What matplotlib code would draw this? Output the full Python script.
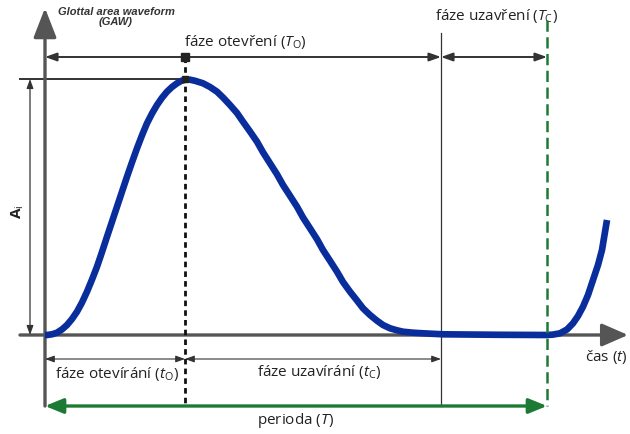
import matplotlib
matplotlib.use('Agg')
import matplotlib.pyplot as plt

# diagram values, in picture units (x to the right, y downwards)
x_origin = 45
y_base = 335
y_peak = 79
t_peak = 185        # end of opening phase
t_close = 441       # end of closing phase
t_period = 547      # end of period

# glottal area waveform
curve_x = [45, 47, 52, 57, 62, 67, 72, 77, 82, 87, 92, 97, 102, 107, 112,
           117, 122, 127, 132, 137, 142, 147, 152, 157, 162, 167, 172, 177,
           181, 186, 190, 195, 203, 210, 217, 223, 230, 237, 243, 250, 257,
           263, 270, 277, 283, 290, 297, 303, 310, 317, 323, 330, 337, 343,
           350, 357, 363, 370, 377, 383, 390, 397, 403, 413, 423, 443, 500,
           547, 553, 560, 567, 573, 578, 583, 588, 593, 598, 602, 607]
curve_y = [335, 335, 334.3, 332.7, 329.4, 325, 319, 311.7, 302.5, 291.7,
           279.6, 266.7, 252, 236.7, 221.7, 206.7, 191.7, 176.7, 162.3, 148.3,
           135.3, 123.3, 113.5, 105, 97.8, 91.7, 87, 83.3, 81, 79.5, 79.7, 80.8,
           83.3, 87, 91.7, 97.5, 105, 113, 121.7, 131.5, 141.7, 152.3, 163.3,
           174.3, 185, 195.8, 206.7, 217.5, 228.3, 239.2, 250, 260.8, 271.7,
           282, 291.7, 300.5, 308.3, 315, 320.7, 325, 328.3, 330.3, 331.7,
           332.7, 333.3, 334.3, 334.8, 335, 334.6, 333.3, 329.5, 323.3, 316,
           306.7, 295, 280, 265, 250, 220]

labels = {
    'open_phase': 'fáze otevření ($T_{\\mathrm{O}}$)',
    'closed_phase': 'fáze uzavření ($T_{\\mathrm{C}}$)',
    'opening': 'fáze otevírání ($t_{\\mathrm{O}}$)',
    'closing': 'fáze uzavírání ($t_{\\mathrm{C}}$)',
    'period': 'perioda ($T$)',
    'time': 'čas ($t$)',
    'title': 'Glottal area waveform\n(GAW)',
}

plt.rcParams['font.family'] = ['Open Sans', 'DejaVu Sans']
plt.rcParams['mathtext.fontset'] = 'custom'
plt.rcParams['mathtext.rm'] = 'Open Sans'
plt.rcParams['mathtext.it'] = 'Open Sans:italic'
plt.rcParams['mathtext.bf'] = 'Open Sans:bold'

axis_col = '#555555'
line_col = '#333333'
blue = '#0a2d9c'
green = '#1d7a35'
txt_col = '#222222'
fs = 11

fig = plt.figure(figsize=(6.3, 4.34), dpi=100)
ax = fig.add_axes([0, 0, 1, 1])
ax.set_xlim(0, 630)
ax.set_ylim(434, 0)
ax.axis('off')


def arrow(x0, y0, x1, y1, style, color, lw, z=3):
    ax.annotate('', xy=(x1, y1), xytext=(x0, y0),
                arrowprops=dict(arrowstyle=style, color=color, lw=lw,
                                shrinkA=0, shrinkB=0),
                zorder=z)


# main axes
arrow(x_origin, 406, x_origin, 8, '-|>,head_length=1.8,head_width=0.7', axis_col, 2.4)
arrow(20, y_base, 628, y_base, '-|>,head_length=1.6,head_width=0.7', axis_col, 2.4)

# guide lines
ax.plot([20, t_peak], [y_peak, y_peak], color=line_col, lw=1.4, zorder=2)
ax.plot([t_close, t_close], [33, 406], color=line_col, lw=0.9, zorder=2)
ax.plot([t_peak, t_peak], [57, 406], color='#111111', lw=2,
        linestyle=(0, (2, 1.5)), zorder=4)
ax.plot([t_period, t_period], [20, 406], color=green, lw=1.8,
        linestyle=(0, (4.5, 2.2)), zorder=4)

# waveform
ax.plot(curve_x, curve_y, color=blue, lw=4.8, solid_capstyle='butt',
        solid_joinstyle='round', zorder=3)
ax.plot([t_peak], [y_peak], 's', color='#222222', ms=4, zorder=5)
ax.plot([t_peak], [57], 's', color='#222222', ms=6, zorder=5)

# dimension arrows
small = '<|-|>,head_length=0.7,head_width=0.25'
tiny = '<|-|>,head_length=0.55,head_width=0.2'
arrow(x_origin, 57, t_close, 57, small, line_col, 1.4)
arrow(t_close, 57, t_period, 57, small, line_col, 1.4)
arrow(30, y_peak, 30, y_base, tiny, line_col, 0.9)
arrow(x_origin, 359, t_peak, 359, tiny, line_col, 0.8)
arrow(t_peak, 359, t_close, 359, tiny, line_col, 0.8)
arrow(x_origin, 406, t_period, 406, '<|-|>,head_length=1.1,head_width=0.45', green, 2.4)

# texts
ax.text(116, 17, labels['title'], ha='center', va='center', fontsize=8,
        fontweight='bold', fontstyle='italic', family='Liberation Sans',
        color='#333333', linespacing=1.05)
ax.text(245, 42, labels['open_phase'], ha='center', va='center', fontsize=fs, color=txt_col)
ax.text(496, 16, labels['closed_phase'], ha='center', va='center', fontsize=fs, color=txt_col)
ax.text(117, 374, labels['opening'], ha='center', va='center', fontsize=fs, color=txt_col)
ax.text(319, 372, labels['closing'], ha='center', va='center', fontsize=fs, color=txt_col)
ax.text(295, 421, labels['period'], ha='center', va='center', fontsize=fs, color=txt_col)
ax.text(627, 357, labels['time'], ha='right', va='center', fontsize=fs, color=txt_col)
ax.text(18, 212, '$\\mathbf{A}_{\\mathrm{i}}$', ha='center', va='center', fontsize=11,
        rotation=90, color=txt_col)

fig.savefig('out.png', dpi=100)
